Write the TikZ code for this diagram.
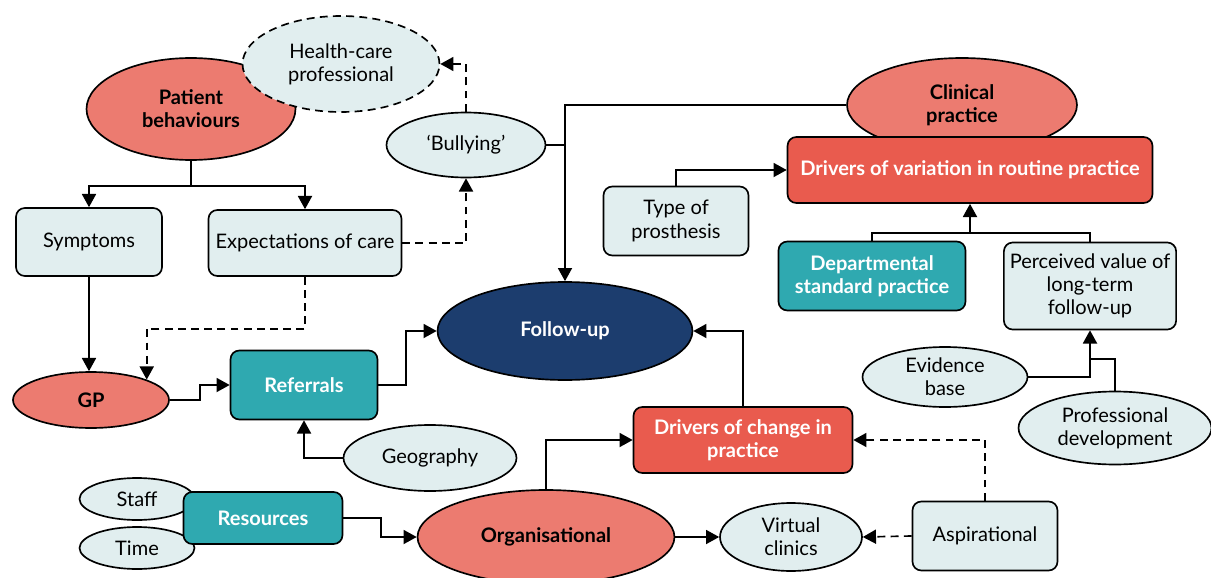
\documentclass[tikz,border=0pt]{standalone}
\usepackage{fontspec}
\setmainfont{Lato}
\usetikzlibrary{shapes.geometric,arrows.meta}
\definecolor{salmon}{HTML}{EC7B70}
\definecolor{redfill}{HTML}{E95B4E}
\definecolor{tealfill}{HTML}{2FA9B0}
\definecolor{navyfill}{HTML}{1C3D6E}
\definecolor{lightfill}{HTML}{E1EEEF}
\newcommand{\mapfont}{\fontsize{11.4}{13.2}\selectfont}
\tikzset{
  base/.style={draw=black, line width=0.95pt, align=center, font=\mapfont},
  lightell/.style={base, ellipse, inner sep=0pt, fill=lightfill},
  salell/.style={base, ellipse, inner sep=0pt, fill=salmon, font=\mapfont\bfseries},
  lightbox/.style={base, rectangle, rounded corners=5pt, fill=lightfill},
  tealbox/.style={base, rectangle, rounded corners=5pt, fill=tealfill, text=white, font=\mapfont\bfseries},
  redbox/.style={base, rectangle, rounded corners=5pt, fill=redfill, text=white, font=\mapfont\bfseries},
  conn/.style={line width=0.95pt},
  arr/.style={conn, -{Triangle[length=7.5pt,width=8pt]}},
  darr/.style={arr, dash pattern=on 4.5pt off 3pt},
}
\begin{document}
\begin{tikzpicture}[x=0.02cm, y=-0.02cm]
  \useasboundingbox (0,0) rectangle (1211,578);
  % left group
  \node[salell, minimum width=4.18cm, minimum height=2.04cm] (pat) at (191,109) {Patient\\behaviours};
  \node[lightell, dash pattern=on 4.5pt off 3pt, minimum width=3.94cm, minimum height=1.92cm] (hcp) at (341,64) {Health-care\\professional};
  \node[lightell, minimum width=3.18cm, minimum height=1.3cm] (bul) at (466,145) {‘Bullying’};
  \node[lightbox, minimum width=2.92cm, minimum height=1.36cm] (sym) at (89,242) {Symptoms};
  \node[lightbox, minimum width=3.86cm, minimum height=1.32cm] (exp) at (305,243) {Expectations of care};
  \node[salell, minimum width=3.12cm, minimum height=1.12cm] (gp) at (91,400) {GP};
  \node[tealbox, minimum width=2.94cm, minimum height=1.38cm] (ref) at (304,385) {Referrals};
  \node[lightell, minimum width=3.46cm, minimum height=1.32cm] (geo) at (430,458) {Geography};
  \node[lightell, minimum width=2.3cm, minimum height=0.84cm] (staff) at (137,499) {Staff};
  \node[lightell, minimum width=2.3cm, minimum height=0.84cm] (time) at (137,548) {Time};
  \node[tealbox, minimum width=3.18cm, minimum height=1.04cm] (res) at (263,518) {Resources};
  % centre
  \node[base, ellipse, inner sep=0pt, fill=navyfill, text=white, font=\mapfont\bfseries, minimum width=5.1cm, minimum height=1.96cm] (fu) at (565,331) {Follow-up};
  \node[salell, minimum width=5.14cm, minimum height=1.88cm] (org) at (546,537) {Organisational};
  \node[redbox, minimum width=4.38cm, minimum height=1.32cm] (chg) at (743,440) {Drivers of change in\\practice};
  \node[lightell, minimum width=2.84cm, minimum height=1.36cm] (vir) at (791,537) {Virtual\\clinics};
  \node[lightbox, minimum width=2.9cm, minimum height=1.38cm] (asp) at (985,536) {Aspirational};
  % right group
  \node[salell, minimum width=4.6cm, minimum height=1.88cm] (clin) at (962,105) {Clinical\\practice};
  \node[redbox, minimum width=7.3cm, minimum height=1.32cm] (var) at (970,170) {Drivers of variation in routine practice};
  \node[lightbox, minimum width=2.9cm, minimum height=1.38cm] (typ) at (676,221) {Type of\\prosthesis};
  \node[tealbox, minimum width=3.74cm, minimum height=1.38cm] (dep) at (872,276) {Departmental\\standard practice};
  \node[lightbox, minimum width=3.42cm, minimum height=1.74cm] (per) at (1090,286) {Perceived value of\\long-term\\follow-up};
  \node[lightell, minimum width=3.3cm, minimum height=1.2cm] (evi) at (945,377) {Evidence\\base};
  \node[lightell, minimum width=3.86cm, minimum height=1.46cm] (pro) at (1115,428) {Professional\\development};

  % connectors
  \draw[conn] (pat.south) -- ++(0,25) coordinate (pj);
  \draw[arr] (pj) -| (sym.north);
  \draw[arr] (pj) -| (exp.north);
  \draw[darr] (exp.east) -| (bul.south);
  \draw[darr] (bul.north) |- (hcp.east);
  \draw[arr] (clin.west) -| (fu.north);
  \draw[conn] (bul.east) -- (bul.east -| fu.north);
  \draw[arr] (sym.south) -- (sym.south |- gp.north);
  \draw[darr] (exp.south) -- ++(0,52) -| (gp.north east);
  \draw[arr] (gp.east) -- ++(30,0) |- (ref.west);
  \draw[arr] (ref.east) -- ++(28,0) |- (fu.west);
  \draw[arr] (geo.west) -| (ref.south);
  \draw[arr] (res.east) -- ++(38,0) |- (org.west);
  \draw[arr] (org.north) |- (chg.west);
  \draw[arr] (chg.north) |- (fu.east);
  \draw[arr] (org.east) -- (vir.west);
  \draw[darr] (asp.west) -- (vir.east);
  \draw[darr] (asp.north) |- (chg.east);
  \draw[arr] (typ.north) |- (var.west);
  \coordinate (vj) at (970,233);
  \draw[conn] (dep.north) |- (vj) -| (per.north);
  \draw[arr] (vj) -- (var.south);
  \draw[arr] (evi.east) -| (per.south);
  \draw[conn] (pro.north) -- ++(0,-32) -- ++(-25,0);
\end{tikzpicture}
\end{document}
